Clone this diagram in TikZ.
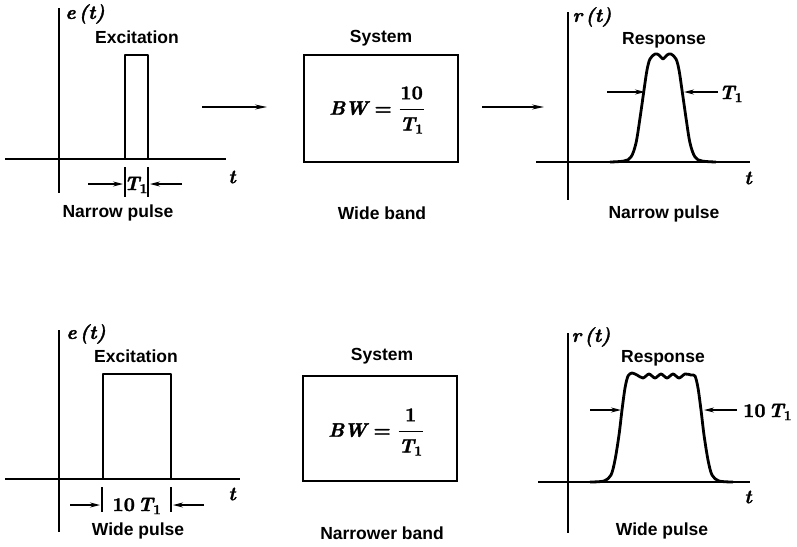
\documentclass[tikz,border=0pt]{standalone}
\usepackage{amsmath}
\usepackage[no-math]{fontspec}
\newfontfamily\labfont{Liberation Sans}
\newfontfamily\mfont{lmroman10-bolditalic.otf}[FakeBold=1.6]
\newfontfamily\mupfont{lmroman10-bold.otf}[FakeBold=1.4]
\newcommand\mtx[1]{\text{\mfont #1}}
\newcommand\mup[1]{\text{\mupfont #1}}
\usetikzlibrary{arrows.meta}
\begin{document}
\begin{tikzpicture}[x=1pt,y=-1pt,
  axis/.style={line width=1.8pt},
  sig/.style={line width=2.8pt,line join=round},
  dim/.style={line width=1.3pt,-{Stealth[length=10pt,width=5pt]}},
  flow/.style={line width=1.5pt,-{Stealth[length=12pt,width=5pt]}},
  lab/.style={font=\labfont\bfseries\fontsize{17.5}{20}\selectfont,inner sep=0pt},
  mth/.style={font=\fontsize{19.5}{22}\selectfont\mfont\boldmath,inner sep=0pt},
  sysbox/.style={draw,line width=2pt}]
\useasboundingbox (0,0) rectangle (797,546);

% ---------- top row ----------
% left panel
\coordinate (ya1) at (59,8); \coordinate (yb1) at (59,193);
\coordinate (xa1) at (5,159); \coordinate (xb1) at (226,159);
\draw[axis] (ya1) -- (yb1);
\draw[axis] (xa1) -- (xb1);
\node[mth] (et1) at (85,14) {e\,(t)};
\node[lab] (ex1) at (137,37) {Excitation};
\coordinate (p1a) at (125,159); \coordinate (p1b) at (125,55);
\coordinate (p1c) at (148,55); \coordinate (p1d) at (148,159);
\draw[sig] (p1a) -- (p1b) -- (p1c) -- (p1d);
\node[mth] (t1) at (232,177) {t};
\coordinate (b1a) at (125,167); \coordinate (b1b) at (125,197);
\coordinate (b1c) at (148,167); \coordinate (b1d) at (148,197);
\draw[line width=1.2pt] (b1a) -- (b1b) (b1c) -- (b1d);
\node[mth] (T1a) at (136,185) {$\mtx{T}_{\mup{1}}$};
\coordinate (d1s) at (88,184); \coordinate (d1e) at (123,184);
\coordinate (d2s) at (182,184); \coordinate (d2e) at (150,184);
\draw[dim] (d1s) -- (d1e);
\draw[dim] (d2s) -- (d2e);
\node[lab] (np1) at (118,213) {Narrow pulse};

% flow arrows
\coordinate (fa1) at (202,107); \coordinate (fb1) at (267,107);
\draw[flow] (fa1) -- (fb1);
\coordinate (fa2) at (482,107); \coordinate (fb2) at (544,107);
\draw[flow] (fa2) -- (fb2);

% system box
\node[sysbox,minimum width=154pt,minimum height=107pt] (sys1) at (381,108) {};
\node[lab] (sl1) at (381,38) {System};
\node[mth] (bw1) at (377,110) {$\mtx{BW}\mathrel{\mup{=}}\dfrac{\mup{10}}{\mtx{T}_{\mup{1}}}$};
\node[lab] (wb) at (382,213) {Wide band};

% right panel
\coordinate (ya2) at (568,12); \coordinate (yb2) at (568,200);
\coordinate (xa2) at (536,162); \coordinate (xb2) at (750,162);
\draw[axis] (ya2) -- (yb2);
\draw[axis] (xa2) -- (xb2);
\node[mth] (rt1) at (592,17) {r\,(t)};
\node[lab] (rs1) at (664,40) {Response};
\node[mth] (t2) at (748,178) {t};
\draw[sig] plot[smooth,tension=0.55] coordinates {(610,162) (624,161) (631,157) (636,143) (640,118) (644,90) (647,70) (650,59) (655,54) (659,55) (663,59) (667,55) (671,54) (676,59) (679,70) (682,90) (686,118) (690,143) (695,157) (702,161) (716,162)};
\coordinate (d3s) at (607,92); \coordinate (d3e) at (645,92);
\coordinate (d4s) at (718,92); \coordinate (d4e) at (684,92);
\draw[dim] (d3s) -- (d3e);
\draw[dim] (d4s) -- (d4e);
\node[mth,anchor=west] (T1b) at (719,94) {$\mtx{T}_{\mup{1}}$};
\node[lab] (np2) at (664,214) {Narrow pulse};

% ---------- bottom row ----------
% left panel
\coordinate (ya3) at (59,330); \coordinate (yb3) at (59,532);
\coordinate (xa3) at (5,479); \coordinate (xb3) at (240,479);
\draw[axis] (ya3) -- (yb3);
\draw[axis] (xa3) -- (xb3);
\node[mth] (et2) at (86,334) {e\,(t)};
\node[lab] (ex2) at (136,356) {Excitation};
\coordinate (p3a) at (103,479); \coordinate (p3b) at (103,374);
\coordinate (p3c) at (171,374); \coordinate (p3d) at (171,479);
\draw[sig] (p3a) -- (p3b) -- (p3c) -- (p3d);
\node[mth] (t3) at (232,494) {t};
\coordinate (b3a) at (102,487); \coordinate (b3b) at (102,512);
\coordinate (b3c) at (171,487); \coordinate (b3d) at (171,512);
\draw[line width=1.2pt] (b3a) -- (b3b) (b3c) -- (b3d);
\node[mth] (T1c) at (137,506) {$\mup{10}\mkern2mu\mtx{T}_{\mup{1}}$};
\coordinate (d5s) at (70,505); \coordinate (d5e) at (100,505);
\coordinate (d6s) at (204,505); \coordinate (d6e) at (173,505);
\draw[dim] (d5s) -- (d5e);
\draw[dim] (d6s) -- (d6e);
\node[lab] (wp1) at (138,531) {Wide pulse};

% system box
\node[sysbox,minimum width=154pt,minimum height=105pt] (sys2) at (380,428) {};
\node[lab] (sl2) at (382,356) {System};
\node[mth] (bw2) at (376,432) {$\mtx{BW}\mathrel{\mup{=}}\dfrac{\mup{1}}{\mtx{T}_{\mup{1}}}$};
\node[lab] (nb) at (382,533) {Narrower band};

% right panel
\coordinate (ya4) at (568,333); \coordinate (yb4) at (568,533);
\coordinate (xa4) at (538,482); \coordinate (xb4) at (750,482);
\draw[axis] (ya4) -- (yb4);
\draw[axis] (xa4) -- (xb4);
\node[mth] (rt2) at (591,337) {r\,(t)};
\node[lab] (rs2) at (663,358) {Response};
\node[mth] (t4) at (748,497) {t};
\draw[sig] plot[smooth,tension=0.5] coordinates {(590,482) (604,481) (611,475) (615,460) (619,435) (622,410) (625,388) (628,376) (632,373) (637,375) (643,378) (649,374) (655,378) (661,374) (667,378) (673,374) (679,378) (685,374) (691,375) (695,376) (698,388) (701,410) (704,435) (708,460) (712,475) (719,481) (733,482)};
\coordinate (d7s) at (737,410); \coordinate (d7e) at (704,410);
\coordinate (d8s) at (590,410); \coordinate (d8e) at (621,410);
\draw[dim] (d8s) -- (d8e);
\draw[dim] (d7s) -- (d7e);
\node[mth,anchor=west] (T1d) at (743,412) {$\mup{10}\mkern2mu\mtx{T}_{\mup{1}}$};
\node[lab] (wp2) at (662,531) {Wide pulse};
\end{tikzpicture}
\end{document}
